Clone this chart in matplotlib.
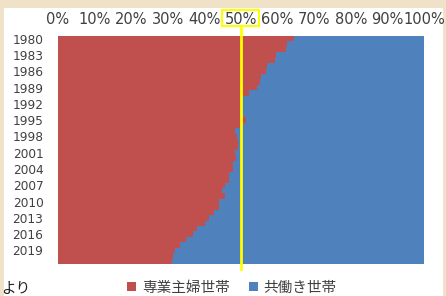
import matplotlib
matplotlib.use("Agg")
import matplotlib.pyplot as plt
from matplotlib.patches import Rectangle

plt.rcParams['font.family'] = ['DejaVu Sans', 'Noto Sans CJK JP']

# share of households (%)
years = list(range(1980, 2022))
housewife = [64.5, 62.7, 62.3, 59.5, 59.4, 57.0, 56.9, 55.5, 55.1, 54.3,
             52.2, 50.3, 49.7, 49.6, 49.7, 51.3, 50.3, 48.4, 48.8, 49.3,
             49.3, 48.3, 48.5, 47.8, 47.7, 46.6, 46.6, 45.7, 44.9, 45.5,
             44.1, 43.9, 42.7, 41.2, 40.1, 38.1, 37.0, 35.0, 33.2, 31.9,
             31.5, 31.2]
dual_income = [35.5, 37.3, 37.7, 40.5, 40.6, 43.0, 43.1, 44.5, 44.9, 45.7,
               47.8, 49.7, 50.3, 50.4, 50.3, 48.7, 49.7, 51.6, 51.2, 50.7,
               50.7, 51.7, 51.5, 52.2, 52.3, 53.4, 53.4, 54.3, 55.1, 54.5,
               55.9, 56.1, 57.3, 58.8, 59.9, 61.9, 63.0, 65.0, 66.8, 68.1,
               68.5, 68.8]
series_names = ["専業主婦世帯", "共働き世帯"]
x_ticks = [0, 10, 20, 30, 40, 50, 60, 70, 80, 90, 100]

RED = "#c0504d"
BLUE = "#4f81bd"
TXT = "#404040"

W, H = 446, 296
fig = plt.figure(figsize=(W / 100, H / 100), dpi=100, facecolor="#efe2c9")
# white chart area on the beige slide
fig.patches.append(Rectangle((4 / W, 0), 439 / W, 1 - 8 / H,
                             transform=fig.transFigure, facecolor="white",
                             edgecolor="none", zorder=-5))

ax = fig.add_axes([58 / W, 1 - 264 / H, 366 / W, 228 / H])
ax.set_facecolor("white")

idx = list(range(len(years)))
ax.barh(idx, housewife, height=1.0, color=RED, linewidth=0, label=series_names[0])
ax.barh(idx, dual_income, left=housewife, height=1.0, color=BLUE, linewidth=0,
        label=series_names[1])

ax.set_xlim(0, 100)
ax.set_ylim(len(years) - 0.5, -0.5)
ax.xaxis.tick_top()
ax.set_xticks(x_ticks)
ax.set_xticklabels([f"{t}%" for t in x_ticks], fontsize=10.5, color=TXT)
ax.set_yticks(idx[::3])
ax.set_yticklabels([str(y) for y in years[::3]], fontsize=8.7, color=TXT)
ax.tick_params(axis="x", length=0, pad=6.5)
ax.tick_params(axis="y", length=0, pad=10.5)
for s in ax.spines.values():
    s.set_visible(False)

# yellow highlight at 50%
ax.plot([50, 50], [-0.5 - 10 / 5.43, len(years) - 0.5 + 5 / 5.43], color="#ffff00",
        lw=2, clip_on=False, zorder=5)
fig.patches.append(Rectangle((222 / W, 1 - 26 / H), 37 / W, 16 / H,
                             transform=fig.transFigure, facecolor="none",
                             edgecolor="#ffff00", lw=1.5, zorder=6))

leg = fig.legend(loc="center", bbox_to_anchor=(232 / W, 1 - 288 / H), ncol=2,
                 frameon=False, handlelength=0.6, handleheight=0.6,
                 handletextpad=0.4, columnspacing=1.3,
                 prop={"family": ["Noto Sans CJK JP"], "size": 10.5})
for t in leg.get_texts():
    t.set_color(TXT)

fig.text(1 / W, 1 - 289 / H, "より", fontsize=10.5, color="#222222",
         family=["Noto Sans CJK JP"], va="center", ha="left")

fig.savefig("out.png", dpi=100, facecolor=fig.get_facecolor())
